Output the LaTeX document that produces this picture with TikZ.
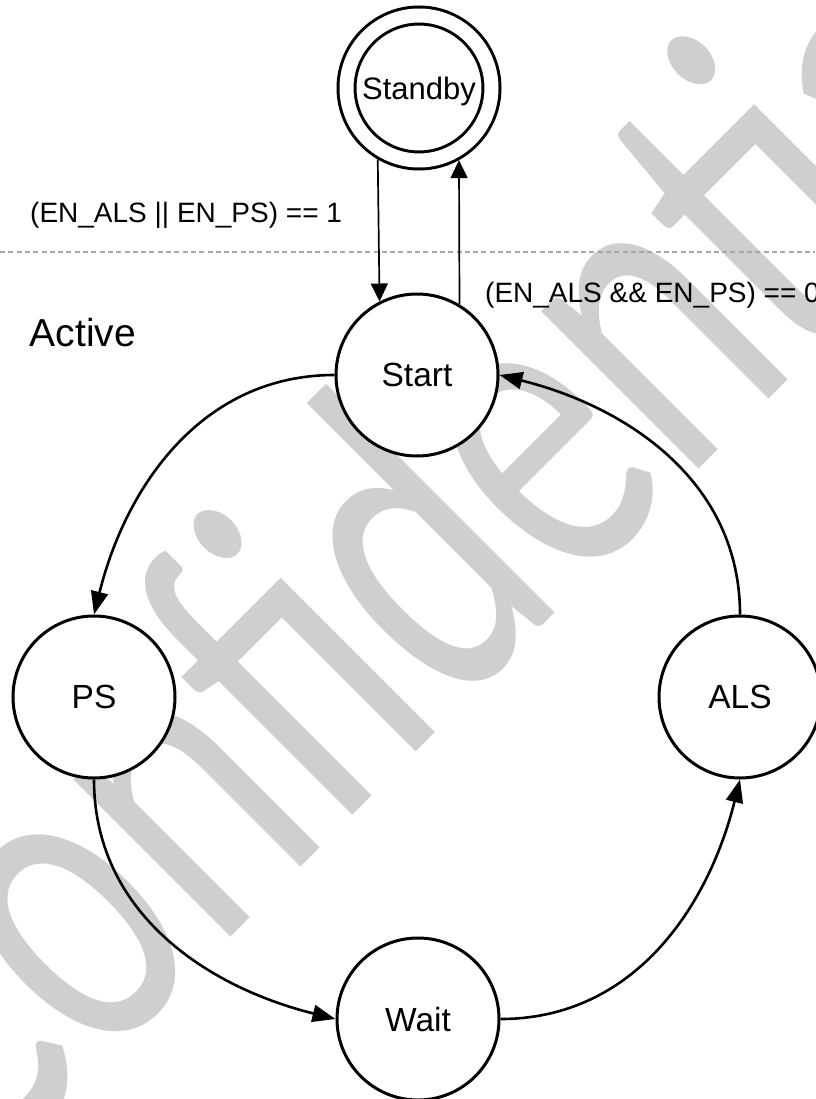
\documentclass[tikz,border=0pt]{standalone}
\usepackage{fontspec}
\setmainfont{Liberation Sans}
\newfontfamily\markfont{Carlito}
\usetikzlibrary{arrows.meta}
\definecolor{wmgray}{RGB}{207,207,207}
\definecolor{sepgray}{RGB}{168,168,168}
\tikzset{
  state/.style={circle, draw=black, line width=3pt, fill=white,
    minimum size=162pt, inner sep=0pt, text depth=0pt,
    font=\fontsize{33.5}{40}\selectfont},
  flow/.style={line width=2.6pt, -{Triangle[length=23pt,width=17pt]}},
  link/.style={line width=1.7pt, -{Triangle[length=18pt,width=17pt]}},
  lbl/.style={font=\fontsize{28}{34}\selectfont, inner sep=0pt, anchor=base west},
}
\begin{document}
\begin{tikzpicture}[x=1pt,y=1pt]
\useasboundingbox (0,0) rectangle (815,-1099);

% watermark behind everything (tall, narrow lettering)
\node[anchor=base west, rotate=45, inner sep=0pt, text=wmgray,
      font=\markfont\fontsize{319}{319}\selectfont] (wm) at (-23.5,-1191.5)
      {\scalebox{1}[1.46]{Confidential}};

% separator between standby and active regions
\draw[sepgray, line width=1.3pt, dash pattern=on 5pt off 3.3pt] (0,-252) -- (815,-252);

% region title
\node[anchor=base west, inner sep=0pt, font=\fontsize{39}{46}\selectfont] (active) at (29.5,-346) {Active};

% states
\node[circle, draw=black, line width=3pt, double=white, double distance=14pt,
      fill=white, minimum size=145pt, inner sep=0pt, outer sep=10pt, text depth=0pt,
      font=\fontsize{31}{37}\selectfont] (standby) at (419,-88) {Standby};
\node[state] (start) at (417,-375) {Start};
\node[state] (ps)    at (94,-697)  {PS};
\node[state] (als)   at (740,-697) {ALS};
\node[state] (wait)  at (418,-1019) {Wait};

% standby <-> start
\draw[link] (standby.240) -- (start.117);
\draw[link] (start.59) -- (standby.299);
\node[lbl] (enter) at (30,-223) {(EN\_ALS || EN\_PS) == 1};
\node[lbl] (leave) at (485,-302) {(EN\_ALS \&\& EN\_PS) == 0};

% active cycle
\draw[flow] (start.west) to[out=180, in=76] (ps.north);
\draw[flow] (ps.south) to[out=-90, in=166] (wait.west);
\draw[flow] (wait.east) to[out=0, in=-104] (als.south);
\draw[flow] (als.north) to[out=90, in=-14] (start.east);
\end{tikzpicture}
\end{document}
